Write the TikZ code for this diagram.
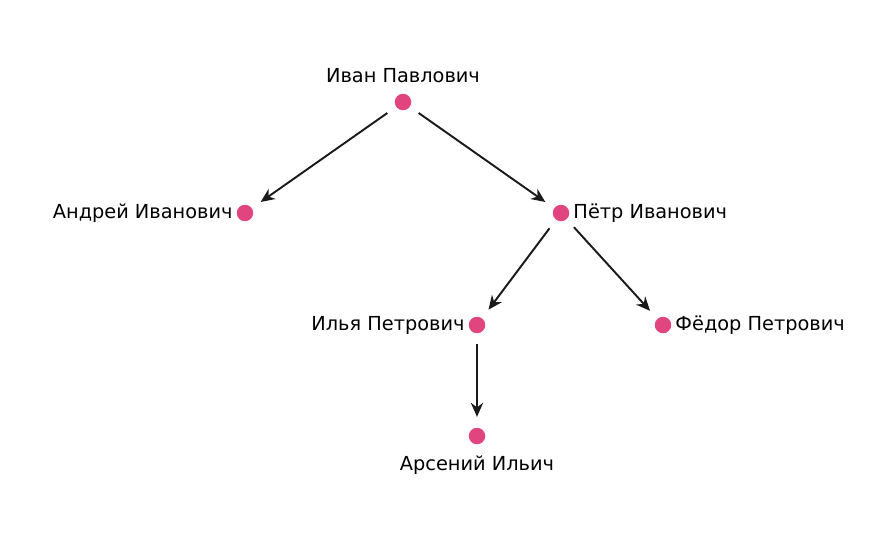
\documentclass[tikz,border=0pt]{standalone}
\usepackage{fontspec}
\setmainfont{DejaVu Sans}
\usetikzlibrary{arrows.meta}
\definecolor{dotpink}{HTML}{E0457F}
\definecolor{edgegray}{HTML}{1A1A1A}
\tikzset{
  person/.style={circle, fill=dotpink, inner sep=0pt, minimum size=0.33cm},
  child/.style={-{Stealth[length=8pt,width=7pt]}, draw=edgegray, line width=1.1pt, shorten <=6pt, shorten >=6pt},
  every label/.style={font=\fontsize{11}{13}\selectfont, inner sep=2pt}
}
\begin{document}
\begin{tikzpicture}[x=0.02cm, y=-0.02cm]
  \useasboundingbox (0,0) rectangle (895,538);

  % people
  \node[person, label={[yshift=4pt]above:Иван Павлович}] (ivan) at (403,102) {};
  \node[person, label=left:Андрей Иванович] (andrei) at (245,213) {};
  \node[person, label=right:Пётр Иванович] (petr) at (561,213) {};
  \node[person, label=left:Илья Петрович] (ilya) at (477,325) {};
  \node[person, label=right:Фёдор Петрович] (fedor) at (663,325) {};
  \node[person, label={[yshift=-4pt]below:Арсений Ильич}] (arseny) at (477,436) {};

  % descent
  \draw[child] (ivan) -- (andrei);
  \draw[child] (ivan) -- (petr);
  \draw[child] (petr) -- (ilya);
  \draw[child] (petr) -- (fedor);
  \draw[child] (ilya) -- (arseny);
\end{tikzpicture}
\end{document}
